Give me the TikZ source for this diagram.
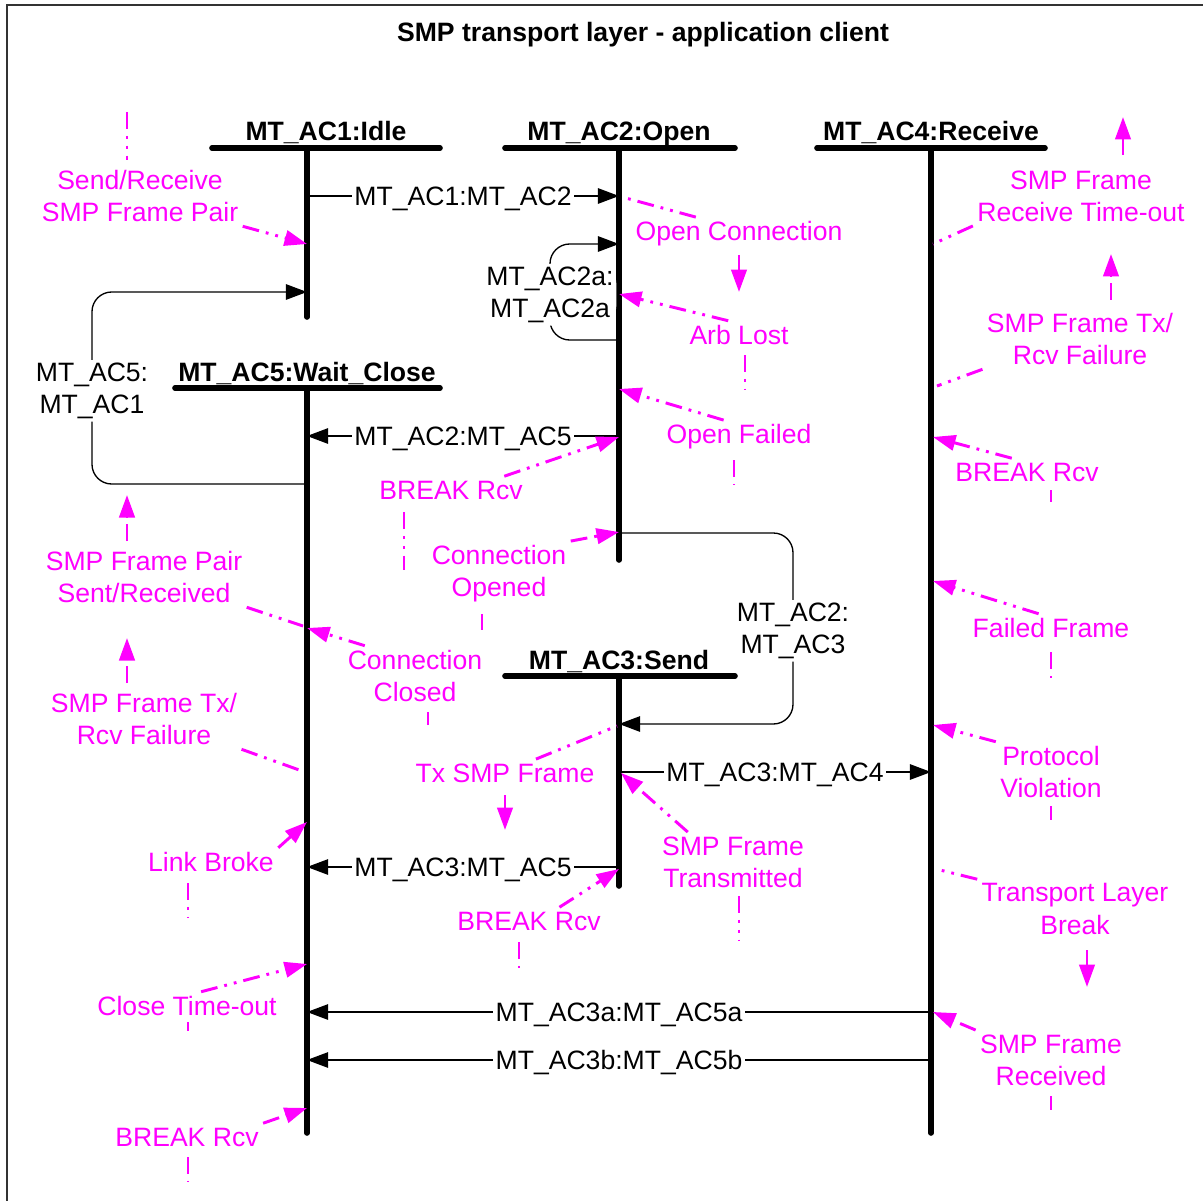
\documentclass[tikz,border=0pt]{standalone}
\usepackage{fontspec}
\setmainfont{Liberation Sans}
\usetikzlibrary{arrows.meta, calc}
\definecolor{SMPPink}{RGB}{255,0,255}

\begin{document}
\begin{tikzpicture}[x=0.025cm, y=-0.025cm,
    font=\fontsize{18.9}{22.8}\selectfont,
    state/.style={font=\fontsize{18.9}{22.8}\selectfont\bfseries, anchor=base, inner sep=0pt},
    bar/.style={line width=4pt, line cap=round},
    tlbl/.style={fill=white, inner sep=2pt, align=center, yshift=-2pt},
    trans/.style={line width=0.95pt, -{Triangle[length=15pt, width=11pt]}},
    note/.style={text=SMPPink, align=center, inner sep=3pt},
    flow/.style={draw=SMPPink, line width=2.1pt,
                 dash pattern=on 12pt off 5pt on 2pt off 5pt on 2pt off 5pt},
    flowarr/.style={flow, -{Triangle[length=16pt, width=11pt]}}
  ]
  \useasboundingbox (0,0) rectangle (1203,1201);
  \draw[line width=1.4pt, black!80] (1203,5) -- (7,5) -- (7,1201);

  \node[font=\fontsize{18.9}{22.8}\selectfont\bfseries] (title) at (643,35)
        {SMP transport layer - application client};

  % states and lifelines
  \node[state] (idle) at (326,141) {MT\_AC1:Idle};
  \node[state] (open) at (619,141) {MT\_AC2:Open};
  \node[state] (recv) at (931,141) {MT\_AC4:Receive};
  \node[state] (wait) at (307,381) {MT\_AC5:Wait\_Close};
  \node[state] (send) at (619,669) {MT\_AC3:Send};
  \foreach \l/\r/\y in {212/440/148, 505/735/148, 817/1045/148, 175/440/388, 505/735/676}
    \draw[bar] (\l,\y) -- (\r,\y);
  \foreach \x/\t/\b in {307/148/317, 619/148/560, 931/148/1133, 307/388/1133, 619/676/886}
    \draw[bar] (\x,\t) -- (\x,\b);

  % transition end points
  \foreach \n/\x/\y in {p12a/307/196, p12b/619/196, p22a/619/340, v22/550/292, p22b/619/244,
                        p51a/307/484, v51/92/388, p51b/307/292, p25a/619/436, p25b/307/436,
                        p23a/619/533, v23/793/628, p23b/619/724, p34a/619/772, p34b/931/772,
                        p35a/619/867, p35b/307/867, p4a/931/1012, p5a/307/1012,
                        p4b/931/1060, p5b/307/1060}
    \coordinate (\n) at (\x,\y);

  \draw[trans] (p12a) -- node[tlbl] {MT\_AC1:MT\_AC2} (p12b);
  \draw[trans, rounded corners=14pt] (p22a) -| (v22) node[tlbl] {MT\_AC2a:\\MT\_AC2a} |- (p22b);
  \draw[trans, rounded corners=14pt] (p51a) -| (v51) node[tlbl] {MT\_AC5:\\MT\_AC1} |- (p51b);
  \draw[trans] (p25a) -- node[tlbl] {MT\_AC2:MT\_AC5} (p25b);
  \draw[trans, rounded corners=14pt] (p23a) -| (v23) node[tlbl] {MT\_AC2:\\MT\_AC3} |- (p23b);
  \draw[trans] (p34a) -- node[tlbl] {MT\_AC3:MT\_AC4} (p34b);
  \draw[trans] (p35a) -- node[tlbl] {MT\_AC3:MT\_AC5} (p35b);
  \draw[trans] (p4a) -- node[tlbl] {MT\_AC3a:MT\_AC5a} (p5a);
  \draw[trans] (p4b) -- node[tlbl] {MT\_AC3b:MT\_AC5b} (p5b);

  % events
  \node[note] (srp) at (140,196) {Send/Receive\\SMP Frame Pair};
  \node[note] (sps) at (144,577) {SMP Frame Pair\\Sent/Received};
  \node[note] (stl) at (144,719) {SMP Frame Tx/\\Rcv Failure};
  \node[note] (ccl) at (415,676) {Connection\\Closed};
  \node[note] (lbk) at (211,862) {Link Broke};
  \node[note] (cto) at (187,1006) {Close Time-out};
  \node[note] (brl) at (187,1137) {BREAK Rcv};
  \node[note] (ocn) at (739,234) {Open Connection};
  \node[note] (arb) at (739,335) {Arb Lost};
  \node[note] (ofl) at (739,437) {Open Failed};
  \node[note] (brm) at (451,490) {BREAK Rcv};
  \node[note] (cop) at (499,574) {Connection\\Opened};
  \node[note] (txf) at (505,773) {Tx SMP Frame};
  \node[note] (sft) at (733,862) {SMP Frame\\Transmitted};
  \node[note] (brs) at (529,921) {BREAK Rcv};
  \node[note] (rto) at (1081,196) {SMP Frame\\Receive Time-out};
  \node[note] (str) at (1080,339) {SMP Frame Tx/\\Rcv Failure};
  \node[note] (brr) at (1027,472) {BREAK Rcv};
  \node[note] (ffr) at (1051,628) {Failed Frame};
  \node[note] (pvi) at (1051,772) {Protocol\\Violation};
  \node[note] (tlb) at (1075,909) {Transport Layer\\Break};
  \node[note] (sfr) at (1051,1060) {SMP Frame\\Received};

  % event hits on lifelines
  \foreach \n/\x/\y in {q1/307/244, q2/303/626, q3/302/771, q4/307/628, q5/307/822,
                        q6/307/964, q7/307/1108, q8/622/197, q9/619/294, q10/619/389,
                        q11/619/437, q12/619/532, q13/617/726, q14/621/773, q15/619/869,
                        q16/933/244, q17/937/386, q18/933/437, q19/933/581, q20/933/725,
                        q21/936/869, q22/933/1012}
    \coordinate (\n) at (\x,\y);

  \draw[flowarr] (srp.south east) -- (q1);
  \draw[flow] (sps.south east) -- (q2);
  \draw[flow] (stl.south east) -- (q3);
  \draw[flowarr] ($(ccl.north west)!0.3!(ccl.north)$) -- (q4);
  \draw[flowarr] (lbk.north east) -- (q5);
  \draw[flowarr] ($(cto.north)!0.15!(cto.north east)$) -- (q6);
  \draw[flowarr] (brl.north east) -- (q7);
  \draw[flow] ($(ocn.north west)!0.6!(ocn.north)$) -- (q8);
  \draw[flowarr] ($(arb.north west)!0.8!(arb.north)$) -- (q9);
  \draw[flowarr] ($(ofl.north west)!0.8!(ofl.north)$) -- (q10);
  \draw[flowarr] ($(brm.north)!0.7!(brm.north east)$) -- (q11);
  \draw[flowarr] (cop.north east) -- (q12);
  \draw[flow] ($(txf.north)!0.33!(txf.north east)$) -- (q13);
  \draw[flowarr] ($(sft.north west)!0.4!(sft.north)$) -- (q14);
  \draw[flowarr] ($(brs.north)!0.4!(brs.north east)$) -- (q15);
  \draw[flow] (rto.south west) -- (q16);
  \draw[flow] (str.south west) -- (q17);
  \draw[flowarr] ($(brr.north west)!0.8!(brr.north)$) -- (q18);
  \draw[flowarr] ($(ffr.north west)!0.85!(ffr.north)$) -- (q19);
  \draw[flowarr] (pvi.north west) -- (q20);
  \draw[flow] (tlb.north west) -- (q21);
  \draw[flowarr] (sfr.north west) -- (q22);

  % flow stubs between events
  \foreach \n/\dx/\a/\b in {srp/-13/-84/-36, ccl/13/36/49, lbk/-23/21/55, cto/1/16/25,
                            brl/1/20/45, arb/6/20/55, ofl/-5/23/48, brm/-47/22/80,
                            cop/-17/40/56, sft/6/34/79, brs/-10/21/47, brr/24/18/30,
                            ffr/0/24/50, pvi/0/34/48, sfr/0/36/50}
    \draw[flow] ($(\n)+(\dx,\a)$) -- ($(\n)+(\dx,\b)$);
  \foreach \n/\dx/\a/\b in {sps/-17/-36/-82, stl/-17/-36/-81, ocn/0/21/58, txf/0/22/57,
                            rto/42/-41/-79, str/31/-39/-85, tlb/12/41/78}
    \draw[flowarr] ($(\n)+(\dx,\a)$) -- ($(\n)+(\dx,\b)$);
\end{tikzpicture}
\end{document}
